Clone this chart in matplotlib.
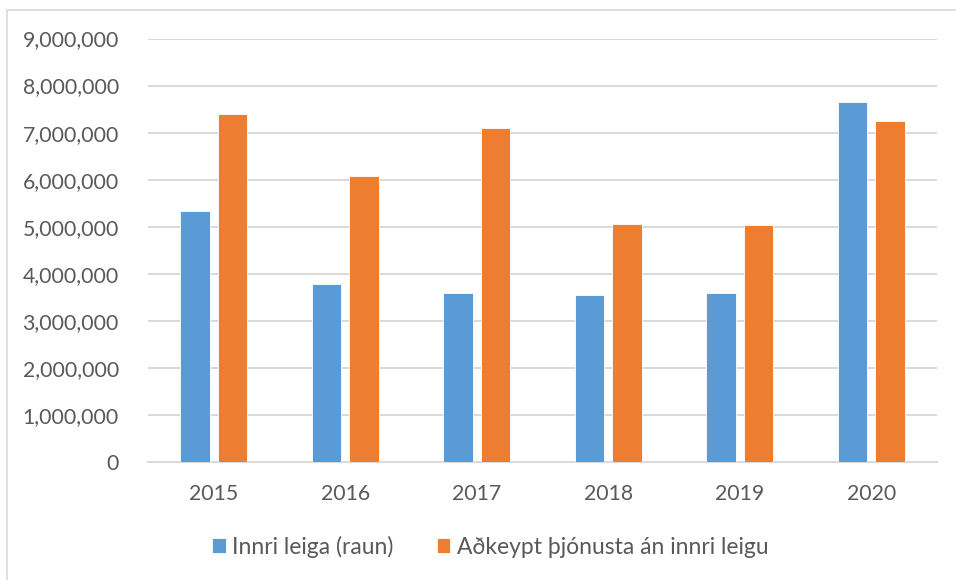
import matplotlib
matplotlib.use("Agg")
import matplotlib.pyplot as plt
import numpy as np
from matplotlib.patches import Rectangle
from matplotlib.ticker import FuncFormatter

years = ["2015", "2016", "2017", "2018", "2019", "2020"]
innri_leiga = [5330000, 3780000, 3600000, 3540000, 3600000, 7640000]
adkeypt = [7400000, 6070000, 7090000, 5050000, 5040000, 7240000]
series_names = ["Innri leiga (raun)", "Aðkeypt þjónusta án innri leigu"]

plt.rcParams['font.family'] = ['Lato', 'DejaVu Sans']
txt = "#595959"
grid_c = "#D9D9D9"

fig = plt.figure(figsize=(9.56, 5.8), dpi=100)
ax = fig.add_axes([148/956, 1-462/580, (937-148)/956, (462-38.5)/580])

x = np.arange(len(years))
w = 0.223
off = (w + 0.063) / 2
ax.bar(x - off, innri_leiga, w, color="#5B9BD5", edgecolor="white", linewidth=0.6,
       label=series_names[0], zorder=3)
ax.bar(x + off, adkeypt, w, color="#ED7D31", edgecolor="white", linewidth=0.6,
       label=series_names[1], zorder=3)

ax.set_xlim(-0.5, len(years) - 0.5)
ax.set_ylim(0, 9000000)
ax.set_yticks(np.arange(0, 9000001, 1000000))
ax.yaxis.set_major_formatter(FuncFormatter(lambda v, p: f"{int(v):,}"))
ax.set_xticks(x)
ax.set_xticklabels(years)
ax.grid(axis='y', color=grid_c, linewidth=1.4, zorder=0)
for s in ['top', 'right', 'left']:
    ax.spines[s].set_visible(False)
ax.spines['bottom'].set_color(grid_c)
ax.spines['bottom'].set_linewidth(1.4)
ax.tick_params(axis='both', length=0, labelsize=15.3, colors=txt)
ax.tick_params(axis='y', pad=21)
ax.tick_params(axis='x', pad=16)

fig.legend(loc='center', bbox_to_anchor=(0.513, 1-546.5/580), ncol=2, frameon=False,
           fontsize=16.5, labelcolor=txt, handlelength=0.58, handleheight=0.58,
           handletextpad=0.28, columnspacing=1.9)

fig.add_artist(Rectangle((7/956, -0.05), 1.2, 1-10/580+0.05, transform=fig.transFigure,
                         fill=False, edgecolor=grid_c, linewidth=1.2))

fig.savefig("out.png", dpi=100)
